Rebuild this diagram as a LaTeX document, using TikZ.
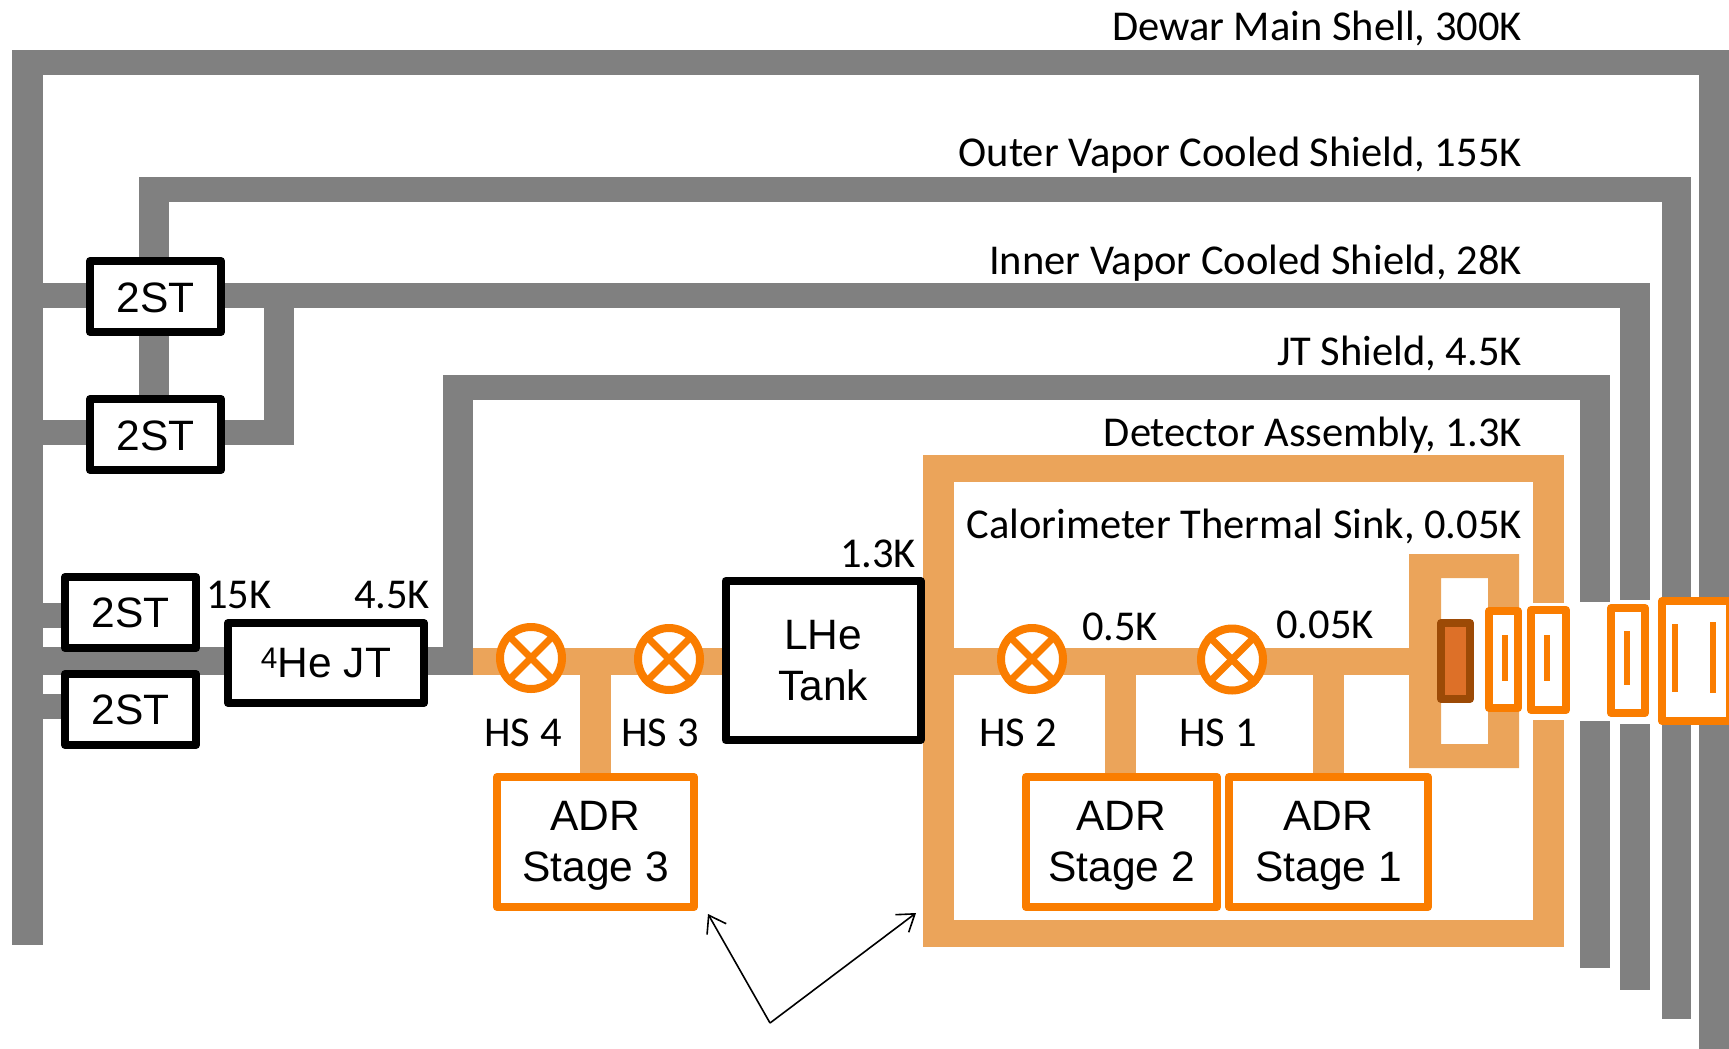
\documentclass[tikz,border=0pt]{standalone}
\usepackage{fontspec}
\setmainfont{Liberation Sans}
\newfontfamily\labfont{Carlito}
\usetikzlibrary{arrows.meta}
\definecolor{shieldgray}{HTML}{808080}
\definecolor{bandorange}{HTML}{EBA45A}
\definecolor{lineorange}{HTML}{FA7D00}
\definecolor{darkbrown}{HTML}{9C4A06}
\definecolor{sinkfill}{HTML}{DD7028}
\tikzset{
  x=1pt,y=-1pt,
  shield/.style={fill=shieldgray,draw=none},
  band/.style={fill=bandorange,draw=none},
  bkbox/.style={draw=black,line width=8pt,fill=white,inner sep=0pt,align=center,line join=round,font=\fontsize{42.5}{51}\selectfont},
  orbox/.style={draw=lineorange,line width=8pt,fill=white,inner sep=0pt,align=center,line join=round,font=\fontsize{42.5}{51}\selectfont},
  slit/.style={fill=lineorange,draw=none},
  valve/.style={draw=lineorange,line width=8pt,fill=white,circle,minimum size=62pt,inner sep=0pt},
  crossbar/.style={draw=lineorange,line width=7pt},
  shieldlabel/.style={anchor=base east,inner sep=0pt,font=\labfont\fontsize{42.5}{50}\selectfont},
  smalllabel/.style={anchor=center,inner sep=0pt,font=\labfont\fontsize{42.5}{50}\selectfont},
  pointer/.style={draw=black,line width=1.6pt,-{Straight Barb[length=16pt,width=22pt,line width=1.6pt]}},
}
\newcommand{\valvecross}[1]{%
  \draw[crossbar] (#1.45) -- (#1.225);
  \draw[crossbar] (#1.135) -- (#1.315);
}
\begin{document}
\begin{tikzpicture}
\clip (0,0) rectangle (1729,1049);
\useasboundingbox (0,0) rectangle (1729,1049);
% Dewar main shell
\fill[shield] (12,50) rectangle (43,945);
\fill[shield] (12,50) rectangle (1729,75);
\fill[shield] (1699,50) rectangle (1729,597);
\fill[shield] (1699,725) rectangle (1729,1049);
% Outer vapor cooled shield
\fill[shield] (139,177) rectangle (1691,202);
\fill[shield] (139,177) rectangle (169,400);
\fill[shield] (1662,177) rectangle (1691,597);
\fill[shield] (1662,725) rectangle (1691,1019);
% Inner vapor cooled shield
\fill[shield] (43,283) rectangle (1650,308);
\fill[shield] (1620,283) rectangle (1650,600);
\fill[shield] (1620,724) rectangle (1650,990);
\fill[shield] (264,283) rectangle (294,445);
\fill[shield] (43,420) rectangle (294,445);
% JT shield
\fill[shield] (443,375) rectangle (1610,400);
\fill[shield] (443,375) rectangle (473,675);
\fill[shield] (1580,375) rectangle (1610,602);
\fill[shield] (1580,721) rectangle (1610,968);
\fill[shield] (43,647) rectangle (473,675);
\fill[shield] (43,603) rectangle (70,628);
\fill[shield] (43,694) rectangle (70,719);
% Orange thermal bands
\fill[band] (473,648) rectangle (730,675);
\fill[band] (580,675) rectangle (611,780);
\fill[band] (923,455) rectangle (1564,482);
\fill[band] (923,455) rectangle (954,947);
\fill[band] (923,920) rectangle (1564,947);
\fill[band] (1533,455) rectangle (1564,603);
\fill[band] (1533,720) rectangle (1564,947);
\fill[band] (954,648) rectangle (1441,675);
\fill[band] (1105,675) rectangle (1136,780);
\fill[band] (1312.5,675) rectangle (1343.5,780);
\fill[band,even odd rule] (1409,554) rectangle (1519,768) (1441,578) rectangle (1488,744);
% Cooler boxes
\node[bkbox,minimum width=131pt,minimum height=71pt] (stA) at (155.5,296.5) {\rule{0pt}{33pt}2ST};
\node[bkbox,minimum width=131pt,minimum height=71pt] (stB) at (155.5,434.5) {\rule{0pt}{33pt}2ST};
\node[bkbox,minimum width=131pt,minimum height=71pt] (stC) at (130.5,612.5) {2ST};
\node[bkbox,minimum width=131pt,minimum height=71pt] (stD) at (130.5,709.5) {2ST};
\node[bkbox,minimum width=196pt,minimum height=80pt] (jt) at (326,663) {\raisebox{0.02em}{\textsuperscript{4}}He JT};
\node[bkbox,minimum width=195pt,minimum height=159pt] (tank) at (823,660.5) {LHe\\[0pt]Tank};
% ADR stages
\node[orbox,minimum width=197pt,minimum height=130pt] (adrC) at (595.5,842) {\rule{0pt}{37pt}ADR\\Stage 3};
\node[orbox,minimum width=191pt,minimum height=130pt] (adrB) at (1121.5,842) {\rule{0pt}{37pt}ADR\\Stage 2};
\node[orbox,minimum width=199pt,minimum height=130pt] (adrA) at (1328.5,842) {\rule{0pt}{37pt}ADR\\Stage 1};
% Heat switches
\node[valve] (hsD) at (531,658) {}; \valvecross{hsD}
\node[valve] (hsC) at (669,659) {}; \valvecross{hsC}
\node[valve] (hsB) at (1032,659) {}; \valvecross{hsB}
\node[valve] (hsA) at (1232,659.5) {}; \valvecross{hsA}
% Detector and filter stack
\node[draw=darkbrown,fill=sinkfill,line width=8pt,line join=round,minimum width=29pt,minimum height=76pt,inner sep=0pt] (det) at (1455.5,661) {};
\node[orbox,minimum width=29pt,minimum height=97pt] (fA) at (1503.5,659.5) {};
\node[orbox,minimum width=35pt,minimum height=100pt] (fB) at (1548.5,660) {};
\node[orbox,minimum width=34pt,minimum height=105pt] (fC) at (1628,660.5) {};
\node[orbox,minimum width=68pt,minimum height=120pt] (fD) at (1696,661) {};
\fill[slit] (1502,635) rectangle (1508,681);
\fill[slit] (1544,635) rectangle (1550,681);
\fill[slit] (1624,631) rectangle (1630,685);
\fill[slit] (1672,624) rectangle (1678,692);
\fill[slit] (1710,622) rectangle (1716,693);
% Labels
\node[shieldlabel] (lDewar) at (1522,41) {Dewar Main Shell, 300K};
\node[shieldlabel] (lOuter) at (1522,166) {Outer Vapor Cooled Shield, 155K};
\node[shieldlabel] (lInner) at (1522,274) {Inner Vapor Cooled Shield, 28K};
\node[shieldlabel] (lJT) at (1522,365) {JT Shield, 4.5K};
\node[shieldlabel] (lDet) at (1522,446) {Detector Assembly, 1.3K};
\node[shieldlabel] (lCal) at (1522,538) {Calorimeter Thermal Sink, 0.05K};
\node[smalllabel] (l15) at (239,595) {15K};
\node[smalllabel] (l45) at (392,595) {4.5K};
\node[smalllabel] (l13) at (878,554) {1.3K};
\node[smalllabel] (l05) at (1120,627) {0.5K};
\node[smalllabel] (l005) at (1325,625) {0.05K};
\node[smalllabel] (lh4) at (523,733) {HS 4};
\node[smalllabel] (lh3) at (660,733) {HS 3};
\node[smalllabel] (lh2) at (1018,733) {HS 2};
\node[smalllabel] (lh1) at (1218,733) {HS 1};
% Pointers
\coordinate (apex) at (770,1023);
\coordinate (tipA) at (708,914);
\coordinate (tipB) at (916,913);
\draw[pointer] (apex) -- (tipA);
\draw[pointer] (apex) -- (tipB);
\end{tikzpicture}
\end{document}
